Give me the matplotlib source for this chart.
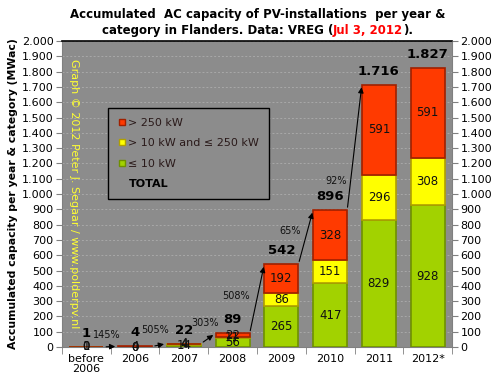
import numpy as np
import matplotlib.pyplot as plt
from matplotlib.lines import Line2D

jaren = ["before\n2006", "2006", "2007", "2008", "2009", "2010", "2011", "2012*"]
klein = [1, 0, 14, 56, 265, 417, 829, 928]
midden = [0, 0, 4, 11, 86, 151, 296, 308]
groot = [0, 4, 4, 22, 192, 328, 591, 591]
totaal = [1, 4, 22, 89, 542, 896, 1716, 1827]
groei = ["145%", "505%", "303%", "508%", "65%", "92%"]

GROEN = "#a2d200"
GEEL = "#ffff00"
ROOD = "#ff3a00"


def dot_format(v):
    return "{:,.0f}".format(v).replace(",", ".")


fig = plt.figure(figsize=(4.99, 3.81), dpi=100)
fig.patch.set_facecolor("white")
ax = fig.add_axes([0.124, 0.0892, 0.782, 0.803])
ax.set_facecolor("#8c8c8c")

x = np.arange(len(jaren))
breedte = 0.7
onder = np.zeros(len(jaren))
for waarden, kleur, rand in [(klein, GROEN, "#6f9000"), (midden, GEEL, "#b0a000"), (groot, ROOD, "#a02000")]:
    ax.bar(x, waarden, breedte, bottom=onder, color=kleur, edgecolor=rand, linewidth=1.2, zorder=3)
    for xi, b, w in zip(x, onder, waarden):
        ax.text(xi, b + w / 2, str(w), ha="center", va="center", fontsize=8.5, color="#111111", zorder=5)
    onder = onder + np.array(waarden)

for xi, t in zip(x, totaal):
    ax.annotate(dot_format(t), (xi, t), xytext=(0, 5), textcoords="offset points",
                ha="center", va="bottom", fontsize=9.5, fontweight="bold", zorder=6)

# groei-pijlen tussen de jaren
label_pos = [(0.42, 78), (1.41, 111), (2.43, 157), (3.07, 333), (4.18, 758), (5.12, 1085)]
for i, tekst in enumerate(groei):
    ax.annotate("", xy=(x[i + 1] - breedte / 2, totaal[i + 1]), xytext=(x[i] + breedte / 2, totaal[i]),
                arrowprops=dict(arrowstyle="-|>", color="black", lw=0.8, mutation_scale=8), zorder=6)
    ax.text(label_pos[i][0], label_pos[i][1], tekst, ha="center", va="center", fontsize=7,
            color="#111111", zorder=6)

ticks = np.arange(0, 2001, 100)
ax.set_xlim(-0.5, len(jaren) - 0.5)
ax.set_ylim(0, 2000)
ax.set_yticks(ticks)
ax.set_yticklabels([dot_format(v) for v in ticks], fontsize=8)
ax.set_xticks(x)
ax.set_xticklabels(jaren, fontsize=8, linespacing=1.0)
ax.tick_params(axis="x", length=0, pad=5)
ax.set_xticks(np.arange(-0.5, len(jaren), 1), minor=True)
ax.tick_params(axis="x", which="minor", length=5, color="#808080")
ax.tick_params(axis="y", length=4, color="#808080", pad=2)
ax.yaxis.grid(True, linestyle=(0, (2, 2)), color="#a8a8a8", linewidth=0.7, zorder=0)
ax.set_axisbelow(True)
for kant in ["left", "right", "bottom"]:
    ax.spines[kant].set_color("#808080")
ax.spines["top"].set_color("black")
ax.spines["top"].set_linewidth(1.2)

ax2 = ax.twinx()
ax2.set_ylim(0, 2000)
ax2.set_yticks(ticks)
ax2.set_yticklabels([dot_format(v) for v in ticks], fontsize=8)
ax2.tick_params(axis="y", length=4, color="#808080", pad=2)
for kant in ["left", "right", "bottom", "top"]:
    ax2.spines[kant].set_visible(False)

ax.set_ylabel("Accumulated capacity per year & category (MWac)", fontsize=7.8, fontweight="bold", labelpad=3)

ax.text(0.03, 0.94, "Graph \u00a9 2012 Peter J. Segaar / www.polderpv.nl", transform=ax.transAxes,
        rotation=-90, ha="center", va="top", fontsize=8, color="#ffff33", zorder=2)

handles = [Line2D([], [], marker="s", linestyle="", markersize=5, markerfacecolor=ROOD, markeredgecolor="#a02000"),
           Line2D([], [], marker="s", linestyle="", markersize=5, markerfacecolor=GEEL, markeredgecolor="#b0a000"),
           Line2D([], [], marker="s", linestyle="", markersize=5, markerfacecolor=GROEN, markeredgecolor="#6f9000"),
           Line2D([], [], linestyle="")]
leg = ax.legend(handles, ["> 250 kW", "> 10 kW and \u2264 250 kW", "\u2264 10 kW", "TOTAL"],
                loc="upper left", bbox_to_anchor=(0.105, 0.80), fontsize=8, frameon=True,
                fancybox=False, edgecolor="black", facecolor="#8c8c8c", framealpha=1,
                handlelength=0.6, handletextpad=0.3, labelspacing=0.95, borderpad=0.9)
leg.set_zorder(4)
for tekst in leg.get_texts():
    tekst.set_color("#2a1a1a")
leg.get_texts()[3].set_fontweight("bold")
leg.get_texts()[3].set_color("black")

# titel: twee regels, datum in rood
titel_stijl = dict(fontsize=8.5, fontweight="bold", va="center")
fig.text(0.516, 0.962, "Accumulated  AC capacity of PV-installations  per year &", ha="center", **titel_stijl)
delen = [("category in Flanders. Data: VREG (", "black"), ("Jul 3, 2012", "red"), (").", "black")]
renderer = fig.canvas.get_renderer()
inv = fig.transFigure.inverted()
objecten = [fig.text(0, 0.92, s, ha="left", color=c, **titel_stijl) for s, c in delen]
breedtes = [inv.transform((o.get_window_extent(renderer).width, 0))[0] - inv.transform((0, 0))[0] for o in objecten]
start = 0.516 - sum(breedtes) / 2
for o, b in zip(objecten, breedtes):
    o.set_x(start)
    start += b

fig.savefig("out.png", dpi=100)
